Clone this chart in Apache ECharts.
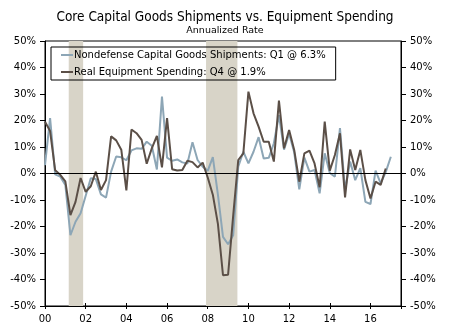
<!DOCTYPE html>
<html><head><meta charset="utf-8">
<script src="https://cdn.jsdelivr.net/npm/echarts@6/dist/echarts.min.js"></script>
<style>html,body{margin:0;padding:0;background:#fff}#c{width:450px;height:327px}</style>
</head><body><div id="c"></div>
<script>
// Quarterly data, 2000Q1 onward
const startYear = 2000;
const shipments = [ // Nondefense Capital Goods Shipments ex aircraft, annualized % (2000Q1–2017Q1)
  3.2, 20.9, -0.3, -1.2,
  -4.3, -23.3, -18.2, -15.0,
  -8.4, -1.8, -2.1, -7.9,
  -9.1, 0.7, 6.4, 6.1,
  5.0, 8.7, 9.5, 9.3,
  12.0, 10.5, 1.5, 29.0,
  6.0, 4.8, 5.3, 4.2,
  3.8, 11.8, 5.1, 2.6,
  1.0, 6.2, -8.0, -23.9,
  -26.7, -23.3, 2.6, 8.2,
  3.8, 8.2, 13.7, 5.7,
  5.9, 11.4, 22.0, 9.0,
  15.0, 8.0, -6.0, 6.0,
  0.7, 1.3, -7.5, 7.6,
  0.2, -1.2, 17.1, -6.3,
  4.5, -2.5, 2.0, -10.7,
  -11.5, 1.1, -3.7, 0.5,
  6.3
];
const equipment = [ // Real Equipment Spending, annualized % (2000Q1–2016Q4)
  19.5, 16.0, 1.2, -0.5,
  -3.0, -15.7, -10.7, -1.7,
  -6.9, -4.8, 0.7, -6.2,
  -2.5, 14.0, 12.5, 9.0,
  -6.4, 16.6, 15.2, 12.7,
  3.7, 9.5, 14.2, 2.3,
  20.9, 1.6, 1.1, 1.3,
  4.8, 4.3, 2.3, 4.1,
  -1.5, -8.0, -19.0, -38.4,
  -38.2, -16.0, 5.1, 7.6,
  30.9, 22.7, 17.7, 12.0,
  12.0, 4.5, 27.5, 9.5,
  16.4, 8.9, -3.1, 7.6,
  8.6, 3.8, -5.2, 19.6,
  1.1, 7.0, 15.2, -9.0,
  9.1, 1.3, 8.9, -2.5,
  -9.4, -3.1, -4.3, 1.9
];
const seriesNames = ['Nondefense Capital Goods Shipments: Q1 @ 6.3%', 'Real Equipment Spending: Q4 @ 1.9%'];
const recessions = [['2001-03', '2001-11'], ['2007-12', '2009-06']];
const xTicks = [2000, 2002, 2004, 2006, 2008, 2010, 2012, 2014, 2016];
const yTicks = [-50, -40, -30, -20, -10, 0, 10, 20, 30, 40, 50];

function qx(i) { return startYear + i / 4; }
function toPairs(arr) { return arr.map((v, i) => [qx(i), v]); }
function monthStart(s) { const [y, m] = s.split('-').map(Number); return y + (m - 1) / 12; }
function monthMid(s) { const [y, m] = s.split('-').map(Number); return y + (m - 0.5) / 12; }

const FONT = 'DejaVu Sans';
const TFONT = '"DejaVu Sans Condensed", "DejaVu Sans"';
const chart = echarts.init(document.getElementById('c'), null, { renderer: 'canvas' });
const xBase = {
  type: 'value', min: xTicks[0], max: 2017.5, interval: 2,
  gridIndex: 0, position: 'bottom',
  splitLine: { show: false },
  axisLine: { show: true, onZero: false, lineStyle: { color: '#000', width: 1 } }
};
chart.setOption({
  animation: false,
  textStyle: { fontFamily: FONT },
  title: [
    { text: 'Core Capital Goods Shipments vs. Equipment Spending', left: 'center', top: 5,
      textStyle: { fontFamily: TFONT, fontSize: 13.5, fontWeight: 'normal', color: '#000' } },
    { text: 'Annualized Rate', left: 'center', top: 21,
      textStyle: { fontFamily: FONT, fontSize: 9.5, fontWeight: 'normal', color: '#000' } }
  ],
  legend: {
    orient: 'vertical', left: 51, top: 47,
    data: seriesNames,
    borderColor: '#000', borderWidth: 1, borderRadius: 0,
    padding: [2, 10, 2, 10], itemGap: 5,
    itemWidth: 12, itemHeight: 2, icon: 'rect',
    textStyle: { fontFamily: FONT, fontSize: 10, color: '#000', lineHeight: 12, padding: [0, 0, 0, -4] }
  },
  grid: { left: 45, right: 49, top: 41, bottom: 21, show: true, borderColor: '#000', borderWidth: 1, backgroundColor: 'transparent' },
  xAxis: [
    Object.assign({}, xBase, {
      axisTick: { show: true, inside: true, length: 3, lineStyle: { color: '#000' } },
      axisLabel: { show: true, margin: 8, fontFamily: FONT, fontSize: 10, color: '#000',
        showMaxLabel: false,
        formatter: v => xTicks.indexOf(v) >= 0 ? String(v % 100).padStart(2, '0') : '' }
    }),
    Object.assign({}, xBase, {
      axisTick: { show: true, inside: false, length: 3, lineStyle: { color: '#000' } },
      axisLabel: { show: false }
    })
  ],
  yAxis: [0, 1].map(k => ({
    type: 'value', min: yTicks[0], max: yTicks[yTicks.length - 1], interval: 10,
    position: k === 0 ? 'left' : 'right',
    splitLine: { show: false },
    axisLine: { show: true, lineStyle: { color: '#000', width: 1 } },
    axisTick: { show: true, length: 5, lineStyle: { color: '#000' } },
    axisLabel: { margin: 9, fontFamily: FONT, fontSize: 10, color: '#000', formatter: '{value}%' }
  })),
  series: [
    {
      name: seriesNames[0], type: 'line', xAxisIndex: 0, yAxisIndex: 0,
      data: toPairs(shipments), showSymbol: false, symbol: 'none',
      lineStyle: { color: '#8da6b6', width: 2 }, itemStyle: { color: '#8da6b6' },
      z: 3,
      markArea: {
        silent: true,
        itemStyle: { color: '#d8d4c8' },
        data: recessions.map(r => [{ xAxis: monthStart(r[0]) }, { xAxis: monthMid(r[1]) }])
      }
    },
    {
      name: seriesNames[1], type: 'line', xAxisIndex: 0, yAxisIndex: 0,
      data: toPairs(equipment), showSymbol: false, symbol: 'none',
      lineStyle: { color: '#5b4f47', width: 2 }, itemStyle: { color: '#5b4f47' },
      z: 4,
      markLine: {
        silent: true, symbol: 'none', label: { show: false },
        lineStyle: { color: '#000', width: 1, type: 'solid' },
        data: [{ yAxis: 0 }]
      }
    }
  ]
});
</script></body></html>
